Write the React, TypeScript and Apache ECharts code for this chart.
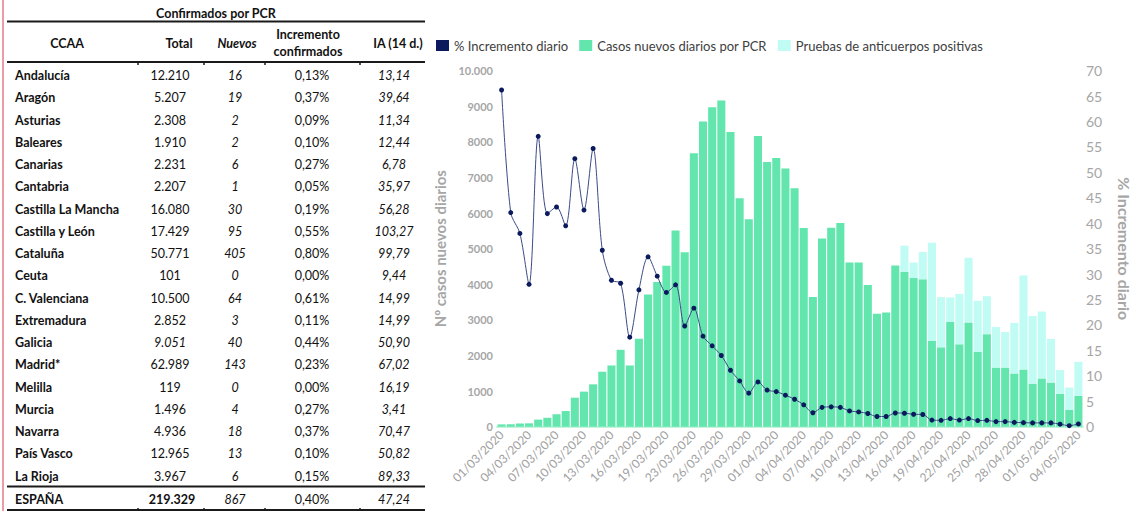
import React, { useEffect, useRef } from "react";
import * as echarts from "echarts";

// ---------- Table data ----------
const regiones = ["Andalucía", "Aragón", "Asturias", "Baleares", "Canarias", "Cantabria", "Castilla La Mancha", "Castilla y León", "Cataluña", "Ceuta", "C. Valenciana", "Extremadura", "Galicia", "Madrid*", "Melilla", "Murcia", "Navarra", "País Vasco", "La Rioja"];
const totales = ["12.210", "5.207", "2.308", "1.910", "2.231", "2.207", "16.080", "17.429", "50.771", "101", "10.500", "2.852", "9.051", "62.989", "119", "1.496", "4.936", "12.965", "3.967"];
const nuevos = ["16", "19", "2", "2", "6", "1", "30", "95", "405", "0", "64", "3", "40", "143", "0", "4", "18", "13", "6"];
const incrementos = ["0,13%", "0,37%", "0,09%", "0,10%", "0,27%", "0,05%", "0,19%", "0,55%", "0,80%", "0,00%", "0,61%", "0,11%", "0,44%", "0,23%", "0,00%", "0,27%", "0,37%", "0,10%", "0,15%"];
const ia14 = ["13,14", "39,64", "11,34", "12,44", "6,78", "35,97", "56,28", "103,27", "99,79", "9,44", "14,99", "14,99", "50,90", "67,02", "16,19", "3,41", "70,47", "50,82", "89,33"];
const espana = ["ESPAÑA", "219.329", "867", "0,40%", "47,24"];
const headers = ["CCAA", "Total", "Nuevos", "Incremento", "confirmados", "IA (14 d.)"];
const tableTitle = "Confirmados por PCR";

// ---------- Chart data ----------
const fechas = [
  "01/03/2020", "02/03/2020", "03/03/2020", "04/03/2020", "05/03/2020", "06/03/2020", "07/03/2020", "08/03/2020",
  "09/03/2020", "10/03/2020", "11/03/2020", "12/03/2020", "13/03/2020", "14/03/2020", "15/03/2020", "16/03/2020",
  "17/03/2020", "18/03/2020", "19/03/2020", "20/03/2020", "21/03/2020", "23/03/2020", "24/03/2020", "25/03/2020",
  "26/03/2020", "27/03/2020", "28/03/2020", "29/03/2020", "30/03/2020", "31/03/2020", "01/04/2020", "02/04/2020",
  "03/04/2020", "04/04/2020", "05/04/2020", "06/04/2020", "07/04/2020", "08/04/2020", "09/04/2020", "10/04/2020",
  "11/04/2020", "12/04/2020", "13/04/2020", "14/04/2020", "15/04/2020", "16/04/2020", "17/04/2020", "18/04/2020",
  "19/04/2020", "20/04/2020", "21/04/2020", "22/04/2020", "23/04/2020", "24/04/2020", "25/04/2020", "26/04/2020",
  "27/04/2020", "28/04/2020", "29/04/2020", "30/04/2020", "01/05/2020", "02/05/2020", "03/05/2020", "04/05/2020",
];
const casosPCR = [
  65, 70, 90, 95, 200, 250, 350, 440, 815, 985, 1190, 1545, 1720, 2160, 1720, 2470,
  3710, 4065, 4520, 5510, 4900, 7680, 8575, 8970, 9160, 8275, 6420, 5825, 8165, 7435, 7550, 7250,
  6695, 5580, 3640, 5285, 5585, 5725, 4615, 4615, 3980, 3170, 3205, 4525, 4345, 4175, 4140, 2405,
  2230, 2940, 2315, 2930, 2100, 2600, 1660, 1660, 1495, 1605, 1210, 1355, 1240, 925, 470, 865,
];
const anticuerpos = [
  0, 0, 0, 0, 0, 0, 0, 0, 0, 0, 0, 0, 0, 0, 0, 0,
  0, 0, 0, 0, 0, 0, 0, 0, 0, 0, 0, 0, 0, 0, 0, 0,
  0, 0, 0, 0, 0, 0, 0, 0, 0, 0, 0, 0, 740, 435, 765, 2760,
  1410, 690, 1415, 1815, 1435, 1065, 1140, 1000, 1420, 2640, 1900, 1880, 1225, 665, 630, 957,
];
const incrementoDiario = [
  66.2, 42.1, 38.0, 28.0, 57.1, 41.9, 43.2, 39.5, 52.7, 42.6, 54.7, 34.7, 28.8, 28.2, 17.6, 26.9,
  33.4, 29.6, 26.4, 27.9, 19.8, 23.3, 17.8, 15.9, 14.0, 11.1, 9.0, 6.6, 8.8, 7.2, 6.9, 6.2,
  5.4, 4.3, 2.75, 3.8, 3.9, 3.8, 3.1, 2.9, 2.6, 2.0, 2.0, 2.7, 2.65, 2.45, 2.4, 1.3,
  1.25, 1.6, 1.3, 1.6, 1.2, 1.25, 1.0, 1.0, 0.85, 0.8, 0.75, 0.75, 0.75, 0.5, 0.2, 0.55,
];
const leftTickLabels = ["0", "1000", "2000", "3000", "4000", "5000", "6000", "7000", "8000", "9000", "10.000"];
const seriesNames = ["% Incremento diario", "Casos nuevos diarios por PCR", "Pruebas de anticuerpos positivas"];

const FONT = "Lato, 'Noto Sans', sans-serif";

function txt(text: string, x: number, y: number, opts: any = {}) {
  return {
    type: "text",
    x,
    y,
    silent: true,
    style: {
      text,
      fill: opts.fill || "#111",
      fontFamily: FONT,
      fontSize: opts.size || 12.5,
      fontWeight: opts.bold ? "bold" : "normal",
      fontStyle: opts.italic ? "italic" : "normal",
      align: opts.align || "center",
      verticalAlign: "middle",
    },
  };
}

function hline(y: number, w: number, x1 = 7, x2 = 425) {
  return { type: "line", silent: true, shape: { x1, y1: y, x2, y2: y }, style: { stroke: "#1a1a1a", lineWidth: w } };
}

function buildTable() {
  const els: any[] = [];
  els.push({ type: "line", silent: true, shape: { x1: 3, y1: 0, x2: 3, y2: 511 }, style: { stroke: "#e37c86", lineWidth: 1.5 } });
  els.push(txt(tableTitle, 216, 13, { bold: true }));
  els.push(hline(21.5, 2));
  els.push(txt(headers[0], 67, 43, { bold: true }));
  els.push(txt(headers[1], 179, 43, { bold: true }));
  els.push(txt(headers[2], 237, 43, { bold: true, italic: true }));
  els.push(txt(headers[3], 308, 34, { bold: true }));
  els.push(txt(headers[4], 308, 51, { bold: true }));
  els.push(txt(headers[5], 398, 43, { bold: true }));
  els.push(hline(62, 2));
  const ticks = [138, 204, 265, 360];
  ticks.forEach((tx) => {
    els.push({ type: "line", silent: true, shape: { x1: tx, y1: 62, x2: tx, y2: 65 }, style: { stroke: "#1a1a1a", lineWidth: 1.5 } });
  });
  const y0 = 75.5;
  const dy = 22.25;
  regiones.forEach((r, i) => {
    const y = y0 + i * dy;
    els.push(txt(r, 15, y, { bold: true, align: "left" }));
    els.push(txt(totales[i], 170, y, { italic: r === "Galicia" }));
    els.push(txt(nuevos[i], 235, y, { italic: true }));
    els.push(txt(incrementos[i], 312, y, {}));
    els.push(txt(ia14[i], 394, y, { italic: true }));
  });
  els.push(hline(486.5, 2));
  const ye = 499;
  els.push(txt(espana[0], 15, ye, { bold: true, align: "left" }));
  els.push(txt(espana[1], 172, ye, { bold: true }));
  els.push(txt(espana[2], 235, ye, { italic: true }));
  els.push(txt(espana[3], 312, ye, {}));
  els.push(txt(espana[4], 394, ye, { italic: true }));
  els.push(hline(510, 2));
  ticks.forEach((tx) => {
    els.push({ type: "line", silent: true, shape: { x1: tx, y1: 508, x2: tx, y2: 511 }, style: { stroke: "#1a1a1a", lineWidth: 1.5 } });
  });
  return els;
}

export default function App() {
  const ref = useRef<HTMLDivElement>(null);
  useEffect(() => {
    if (!ref.current) return;
    const chart = echarts.init(ref.current, undefined, { renderer: "svg" });
    const gray = "#a6a6a6";
    chart.setOption({
      animation: false,
      backgroundColor: "#ffffff",
      textStyle: { fontFamily: FONT },
      legend: {
        left: 431,
        top: 34,
        itemWidth: 13,
        itemHeight: 11,
        itemGap: 11,
        icon: "rect",
        textStyle: { color: "#404040", fontSize: 13, fontFamily: FONT },
        data: [
          { name: seriesNames[0], itemStyle: { color: "#0b1a5c" } },
          { name: seriesNames[1] },
          { name: seriesNames[2] },
        ],
      },
      grid: {
        left: 497,
        right: 49,
        top: 70.7,
        bottom: 84.3,
        containLabel: false,
        outerBoundsMode: "none",
      },
      xAxis: {
        type: "category",
        data: fechas,
        axisTick: { show: false },
        axisLine: { show: true, lineStyle: { color: "#c4f3dc", width: 2 } },
        axisLabel: { rotate: 45, interval: 2, color: "#a0a0a0", fontSize: 12, margin: 6, fontFamily: FONT },
      },
      yAxis: [
        {
          type: "value",
          min: 0,
          max: 10000,
          interval: 1000,
          splitLine: { show: false },
          axisLine: { show: false },
          axisTick: { show: false },
          axisLabel: {
            color: gray,
            fontSize: 11,
            fontWeight: "bold",
            margin: 4,
            formatter: (v: number) => leftTickLabels[Math.round(v / 1000)] ?? "",
          },
          name: "Nº casos nuevos diarios",
          nameLocation: "middle",
          nameGap: 48,
          nameRotate: 90,
          nameTextStyle: { color: gray, fontSize: 15, fontWeight: "bold", fontFamily: FONT },
        },
        {
          type: "value",
          min: 0,
          max: 70,
          interval: 5,
          position: "right",
          splitLine: { show: false },
          axisLine: { show: false },
          axisTick: { show: false },
          axisLabel: { color: gray, fontSize: 14, margin: 3 },
          name: "% Incremento diario",
          nameLocation: "middle",
          nameGap: 33,
          nameRotate: -90,
          nameTextStyle: { color: gray, fontSize: 16, fontWeight: "bold", fontFamily: FONT },
        },
      ],
      series: [
        {
          name: seriesNames[1],
          type: "bar",
          stack: "casos",
          data: casosPCR,
          barCategoryGap: "12%",
          itemStyle: { color: "#62e6ae" },
          yAxisIndex: 0,
        },
        {
          name: seriesNames[2],
          type: "bar",
          stack: "casos",
          data: anticuerpos,
          itemStyle: { color: "#c0fbf4" },
          yAxisIndex: 0,
        },
        {
          name: seriesNames[0],
          type: "line",
          yAxisIndex: 1,
          data: incrementoDiario,
          smooth: 0.3,
          symbol: "circle",
          symbolSize: 5,
          lineStyle: { color: "#3a4a86", width: 1 },
          itemStyle: { color: "#0b1a5c" },
          z: 5,
        },
      ],
      graphic: buildTable(),
    });
    return () => chart.dispose();
  }, []);
  return (
    <div
      ref={ref}
      style={{ position: "absolute", left: 0, top: 0, width: 1132, height: 511, background: "#fff" }}
    />
  );
}
